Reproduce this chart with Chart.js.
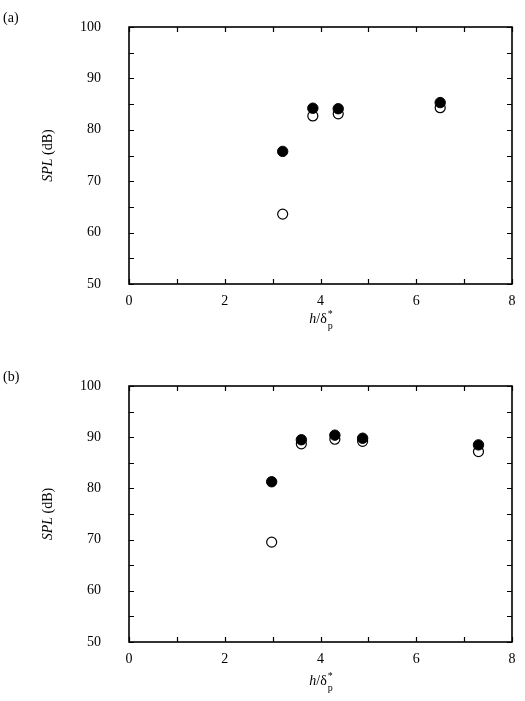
<!DOCTYPE html>
<html>
<head>
<meta charset="utf-8">
<script src="https://cdn.jsdelivr.net/npm/chart.js@4"></script>
<style>
  html, body { margin: 0; padding: 0; background: #fff; }
  #wrap { position: relative; width: 525px; height: 701px; }
  canvas { position: absolute; left: 0; }
</style>
</head>
<body>
<div id="wrap">
  <canvas id="chartA" width="525" height="350" style="top:0"></canvas>
  <canvas id="chartB" width="525" height="350" style="top:351px"></canvas>
</div>
<script>
// panel (a)
const xA = [3.21, 3.84, 4.37, 6.50];
const filledA = [75.8, 84.2, 84.1, 85.3];
const openA = [63.6, 82.7, 83.1, 84.3];

// panel (b)
const xB = [2.98, 3.60, 4.30, 4.88, 7.30];
const filledB = [81.3, 89.5, 90.4, 89.8, 88.5];
const openB = [69.5, 88.7, 89.6, 89.2, 87.2];

const xMin = 0, xMax = 8;
const yMin = 50, yMax = 100;

const FONT = "'Liberation Serif', 'Times New Roman', serif";

function points(xs, ys) {
  return xs.map((x, i) => ({ x: x, y: ys[i] }));
}

// frame, inward ticks, axis titles and panel label
const decorPlugin = {
  id: 'decor',
  afterDraw(chart, args, opts) {
    const { ctx, chartArea: a, scales } = chart;
    ctx.save();
    ctx.strokeStyle = '#000';
    ctx.lineWidth = 1.6;
    ctx.strokeRect(a.left, a.top, a.right - a.left, a.bottom - a.top);

    ctx.lineWidth = 1.2;
    const tl = 5;
    ctx.beginPath();
    scales.x.ticks.forEach(t => {
      const px = Math.round(scales.x.getPixelForValue(t.value)) + 0.5;
      ctx.moveTo(px, a.bottom); ctx.lineTo(px, a.bottom - tl);
      ctx.moveTo(px, a.top); ctx.lineTo(px, a.top + tl);
    });
    scales.y.ticks.forEach(t => {
      const py = Math.round(scales.y.getPixelForValue(t.value)) + 0.5;
      ctx.moveTo(a.left, py); ctx.lineTo(a.left + tl, py);
      ctx.moveTo(a.right, py); ctx.lineTo(a.right - tl, py);
    });
    ctx.stroke();

    ctx.fillStyle = '#000';
    ctx.textBaseline = 'alphabetic';

    // panel label
    ctx.font = '14px ' + FONT;
    ctx.textAlign = 'left';
    ctx.fillText(opts.label, 3, opts.labelY);

    // y title: SPL (dB), rotated
    const cy = (a.top + a.bottom) / 2;
    ctx.save();
    ctx.translate(opts.yTitleX, cy);
    ctx.rotate(-Math.PI / 2);
    ctx.font = 'italic 14px ' + FONT;
    const w1 = ctx.measureText('SPL').width;
    ctx.font = '14px ' + FONT;
    const w2 = ctx.measureText(' (dB)').width;
    const sx = -(w1 + w2) / 2;
    ctx.font = 'italic 14px ' + FONT;
    ctx.fillText('SPL', sx, 0);
    ctx.font = '14px ' + FONT;
    ctx.fillText(' (dB)', sx + w1, 0);
    ctx.restore();

    // x title: h/δ*p
    const by = a.bottom + opts.xTitleDy;
    ctx.font = 'italic 14px ' + FONT;
    const wh = ctx.measureText('h').width;
    ctx.font = '14px ' + FONT;
    const wd = ctx.measureText('/δ').width;
    ctx.font = '10px ' + FONT;
    const ws = Math.max(ctx.measureText('*').width, ctx.measureText('p').width);
    let x = (a.left + a.right) / 2 - (wh + wd + ws) / 2;
    ctx.font = 'italic 14px ' + FONT;
    ctx.fillText('h', x, by); x += wh;
    ctx.font = '14px ' + FONT;
    ctx.fillText('/δ', x, by); x += wd;
    ctx.font = '10px ' + FONT;
    ctx.fillText('*', x + 1, by - 6);
    ctx.fillText('p', x + 1, by + 6);
    ctx.restore();
  }
};

function makePanel(id, xs, filled, open, geo) {
  return new Chart(document.getElementById(id), {
    type: 'scatter',
    data: {
      datasets: [
        {
          label: 'filled',
          data: points(xs, filled),
          backgroundColor: '#000',
          borderColor: '#000',
          borderWidth: 1,
          pointRadius: 5.2
        },
        {
          label: 'open',
          data: points(xs, open),
          backgroundColor: '#fff',
          borderColor: '#000',
          borderWidth: 1.2,
          pointRadius: 5
        }
      ]
    },
    options: {
      responsive: false,
      animation: false,
      layout: {
        padding: { top: geo.top, right: 13, bottom: 0, left: 0 }
      },
      plugins: {
        legend: { display: false },
        tooltip: { enabled: false },
        decor: geo.decor
      },
      scales: {
        x: {
          type: 'linear',
          min: xMin,
          max: xMax,
          afterFit(scale) {
            scale.height = geo.xHeight;
            scale.paddingLeft = 0;
            scale.paddingRight = 0;
          },
          grid: { display: false, drawTicks: false },
          border: { display: false },
          ticks: {
            stepSize: 1,
            padding: 9,
            color: '#000',
            font: { family: FONT, size: 14 },
            maxRotation: 0,
            autoSkip: false,
            callback: v => (v % 2 === 0 ? String(v) : '')
          }
        },
        y: {
          type: 'linear',
          min: yMin,
          max: yMax,
          afterFit(scale) {
            scale.width = 129;
            scale.paddingTop = 0;
            scale.paddingBottom = 0;
          },
          grid: { display: false, drawTicks: false },
          border: { display: false },
          ticks: {
            stepSize: 5,
            padding: 28,
            color: '#000',
            font: { family: FONT, size: 14 },
            autoSkip: false,
            callback: v => (v % 10 === 0 ? String(v) : '')
          }
        }
      }
    },
    plugins: [decorPlugin]
  });
}

makePanel('chartA', xA, filledA, openA, {
  top: 27,
  xHeight: 66,
  decor: { label: '(a)', labelY: 22, yTitleX: 52, xTitleDy: 39 }
});

makePanel('chartB', xB, filledB, openB, {
  top: 35,
  xHeight: 59,
  decor: { label: '(b)', labelY: 30, yTitleX: 52, xTitleDy: 43 }
});
</script>
</body>
</html>
